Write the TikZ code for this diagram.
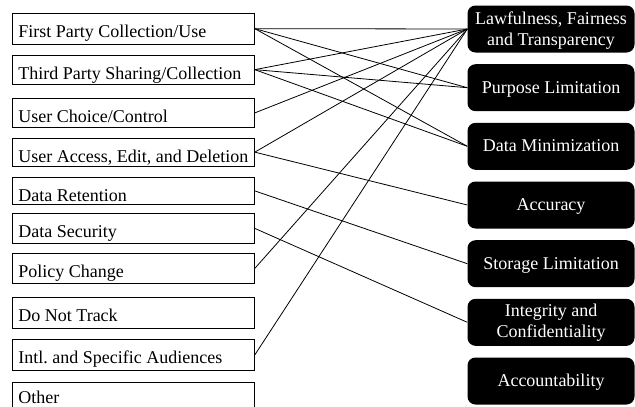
\documentclass[tikz,border=0pt]{standalone}
\usepackage{fontspec}
\setmainfont{Liberation Serif}
\frenchspacing
\begin{document}
\begin{tikzpicture}[x=1pt,y=-1pt,
  lbox/.style={draw, line width=0.8pt, anchor=north west, minimum width=242pt,
    text width=232pt, align=flush left, inner xsep=5pt, inner ysep=0pt,
    text height=24.5pt, font=\fontsize{18}{21.6}\selectfont},
  rbox/.style={fill=black, text=white, rounded corners=8pt, minimum width=167pt,
    minimum height=47pt, align=center, inner sep=0pt,
    text height=14pt, text depth=3pt,
    font=\fontsize{18}{21}\selectfont},
  link/.style={line width=0.8pt}]
\useasboundingbox (0,0) rectangle (635,407);
\clip (0,0) rectangle (635,407);
% left boxes
\node[lbox, text depth=6pt]   (l1)  at (12,13)    {\hspace*{1pt}First Party Collection/Use};
\node[lbox, text depth=4pt]   (l2)  at (12,55)    {\hspace*{1pt}Third Party Sharing/Collection};
\node[lbox, text depth=4.5pt] (l3)  at (12,98)    {\hspace*{1pt}User Choice/Control};
\node[lbox, text depth=3pt]   (l4)  at (12,138)   {\hspace*{1pt}User Access, Edit, and Deletion};
\node[lbox, text depth=2.5pt] (l5)  at (12,177)   {\hspace*{1pt}Data Retention};
\node[lbox, text depth=5.5pt] (l6)  at (12,213)   {\hspace*{1pt}Data Security};
\node[lbox, text depth=5.5pt] (l7)  at (12,253)   {\hspace*{1pt}Policy Change};
\node[lbox, text depth=6.5pt] (l8)  at (12,297)   {\hspace*{1pt}Do Not Track};
\node[lbox, text depth=6.5pt] (l9)  at (12,339)   {\hspace*{1pt}Intl. and Specific Audiences};
\node[lbox, text height=22pt, text depth=12pt] (l10) at (12,381.5) {\hspace*{1pt}Other};
% right boxes
\node[rbox, text height=35pt] (r1) at (551,29)    {Lawfulness, Fairness\\and Transparency};
\node[rbox] (r2) at (551,87.7)  {Purpose Limitation};
\node[rbox] (r3) at (551,146.3) {Data Minimization};
\node[rbox] (r4) at (551,205)   {Accuracy};
\node[rbox] (r5) at (551,263.7) {Storage Limitation};
\node[rbox, text height=34pt] (r6) at (551,322.3) {Integrity and\\Confidentiality};
\node[rbox] (r7) at (551,381)   {Accountability};
% connectors
\draw[link] (l1.east) -- (r1.west);
\draw[link] (l1.east) -- (r2.west);
\draw[link] (l1.east) -- (r3.west);
\draw[link] (l2.east) -- (r1.west);
\draw[link] (l2.east) -- (r2.west);
\draw[link] (l2.east) -- (r3.west);
\draw[link] (l3.east) -- (r1.west);
\draw[link] (l4.east) -- (r1.west);
\draw[link] (l4.east) -- (r4.west);
\draw[link] (l5.east) -- (r5.west);
\draw[link] (l6.east) -- (r6.west);
\draw[link] (l7.east) -- (r1.west);
\draw[link] (l9.east) -- (r1.west);
\end{tikzpicture}
\end{document}
